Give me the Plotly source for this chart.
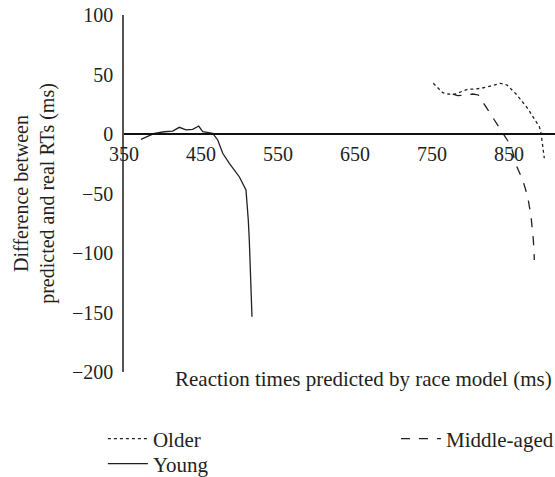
import plotly.graph_objects as go

# Data
young_x = [372, 389.4, 402.3, 413.2, 421.8, 430.5, 439.2, 447, 452.2, 465.2, 471.7, 478.2, 486.8, 499.7, 508.4, 510.6, 511.4, 512.7, 516.2]
young_y = [-4.5, 0.6, 1.9, 2.5, 5.6, 3.4, 3.9, 6.7, 1.9, 0.6, -5, -16.2, -24.6, -35.9, -47, -63.9, -72.3, -89, -153.5]

older_x = [751.7, 757.4, 763.9, 770.4, 779, 787.7, 796.4, 805, 813.6, 822.3, 830.1, 838.7, 847.4, 853.5, 859.1, 864.7, 869.9, 875.1, 879.5, 885.1, 889.4, 891.6, 892.5, 894.2, 895.8]
older_y = [42.6, 39.2, 34.7, 33.6, 33.4, 35.5, 37.6, 37.8, 38.4, 39.7, 41.2, 42.6, 41.2, 37.6, 33.6, 29.2, 25.2, 20.8, 16, 10.9, 6.1, 0.6, -5, -12, -20.4]

middle_x = [776.9, 783.4, 794.2, 802.9, 810.1, 815.8, 822.3, 830.9, 839.6, 843.9, 852.6, 859.1, 867.8, 874.3, 878.6, 881.6, 882.9]
middle_y = [33.6, 32.2, 32.8, 33.6, 32.8, 27.1, 20.8, 11.8, 2.5, -0.8, -10, -26, -38.7, -52.7, -69.5, -89.1, -105.9]

x_ticks = [350, 450, 550, 650, 750, 850]
y_ticks = [100, 50, 0, -50, -100, -150, -200]

INK = "#231f20"
FONT = "Liberation Serif"

fig = go.Figure()
fig.add_trace(go.Scatter(x=older_x, y=older_y, mode="lines", name="Older",
                         line=dict(color=INK, width=1.3, dash="dot"), legend="legend"))
fig.add_trace(go.Scatter(x=middle_x, y=middle_y, mode="lines", name="Middle-aged",
                         line=dict(color=INK, width=1.3, dash="dash"), legend="legend2"))
fig.add_trace(go.Scatter(x=young_x, y=young_y, mode="lines", name="Young",
                         line=dict(color=INK, width=1.3), legend="legend3"))

leg_common = dict(orientation="v", yanchor="top", xanchor="left",
                  font=dict(family=FONT, size=21, color=INK), bgcolor="rgba(0,0,0,0)",
                  itemwidth=40, tracegroupgap=0, traceorder="normal")

fig.update_layout(
    width=555, height=477,
    margin=dict(l=124, r=0, t=15, b=105, autoexpand=False),
    paper_bgcolor="white", plot_bgcolor="white",
    font=dict(family=FONT, size=20, color=INK),
    xaxis=dict(range=[350, 909.7], tickvals=x_ticks, ticktext=[str(v) for v in x_ticks],
               showgrid=False, zeroline=False, showline=True, linecolor="#111111", linewidth=1.5,
               anchor="free", position=(200 / 300), side="bottom", ticks="",
               ticklabelstandoff=2,
               tickfont=dict(family=FONT, size=20, color=INK)),
    yaxis=dict(range=[-200, 100], tickvals=y_ticks, ticktext=[str(v).replace("-", "\u2212") for v in y_ticks],
               showgrid=False, zeroline=False, showline=True, linecolor="#555555", linewidth=1.5,
               ticks="", ticklabelstandoff=5,
               tickfont=dict(family=FONT, size=20, color=INK),
               title=dict(text="Difference between<br>predicted and real RTs (ms)",
                          font=dict(family=FONT, size=20, color=INK), standoff=12)),
    showlegend=True,
    legend=dict(x=-0.049, y=-0.130, **leg_common),
    legend2=dict(x=0.631, y=-0.130, **leg_common),
    legend3=dict(x=-0.049, y=-0.200, **leg_common),
    annotations=[dict(text="Reaction times predicted by race model (ms)", xref="paper", yref="paper",
                      x=0.997, y=-0.02, xanchor="right", yanchor="middle", showarrow=False,
                      font=dict(family=FONT, size=21, color=INK))],
)

fig.write_html("out.html")
